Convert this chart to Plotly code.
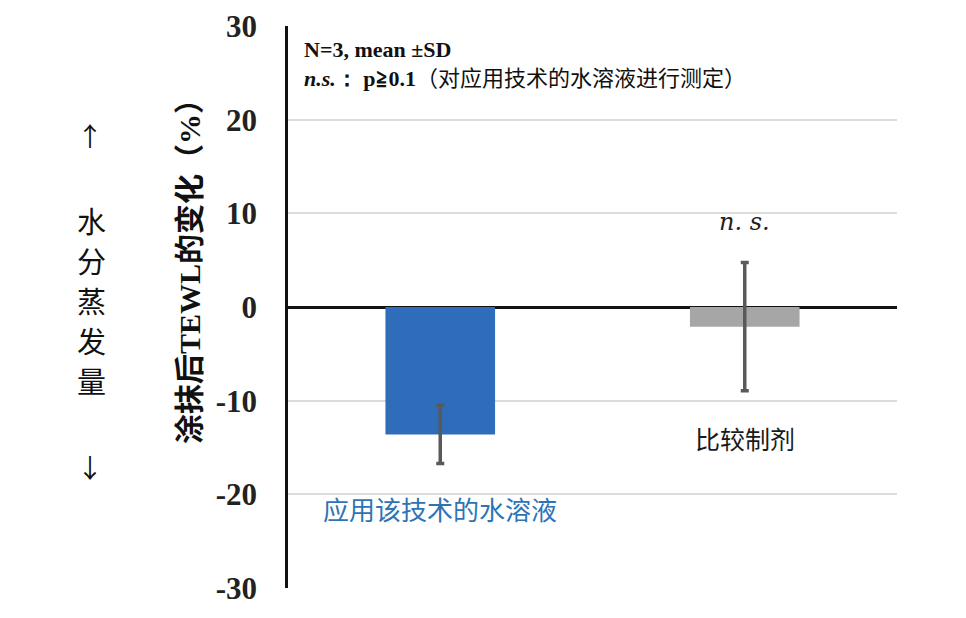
import plotly.graph_objects as go

# Data
categories = ["应用该技术的水溶液", "比较制剂"]
mean_change = [-13.6, -2.1]
sd_change = [3.1, 6.85]
bar_colors = ["#2f6dba", "#a6a6a6"]
label_colors = ["#2e74b5", "#1a1a1a"]
y_ticks = [-30, -20, -10, 0, 10, 20, 30]
side_chars = ["水", "分", "蒸", "发", "量"]

serif = "Liberation Serif, Times New Roman, serif"
cjk = "Noto Sans CJK SC, sans-serif"


def px_to_paper_y(ypix):
    # plot area runs from y=26 (top) to y=588 (bottom) in the photo
    return (588 - ypix) / 562


def px_to_paper_x(xpix):
    # plot area runs from x=288 to x=897
    return (xpix - 288) / 609


fig = go.Figure()

fig.add_trace(go.Bar(
    x=categories,
    y=mean_change,
    width=0.36,
    marker=dict(color=bar_colors, line=dict(width=0)),
    error_y=dict(type="data", array=sd_change, visible=True,
                 color="#595959", thickness=3.5, width=4),
    showlegend=False,
))

# category labels placed inside the plot
fig.add_annotation(x=categories[0], y=-21.5, xref="x", yref="y",
                   text=categories[0], showarrow=False,
                   xanchor="center", yanchor="middle",
                   font=dict(family=cjk, size=26, color=label_colors[0]))
fig.add_annotation(x=categories[1], y=-14.0, xref="x", yref="y",
                   text=categories[1], showarrow=False,
                   xanchor="center", yanchor="middle",
                   font=dict(family=cjk, size=25, color=label_colors[1]))

# significance mark
fig.add_annotation(x=categories[1], y=9.1, xref="x", yref="y",
                   text="<i>n. s.</i>", showarrow=False,
                   xanchor="center", yanchor="middle",
                   font=dict(family="DejaVu Serif, serif", size=24, color="#222"))

# note in top-left corner
note_text = (
    "<b>N=3, mean ±SD</b><br>"
    "<b><i>n.s.</i>： p≧0.1</b>"
    "<span style='font-family:Noto Sans CJK SC;font-size:22px'>（对应用技术的水溶液进行测定）</span>"
)
fig.add_annotation(x=px_to_paper_x(302), y=px_to_paper_y(64), xref="paper", yref="paper",
                   xanchor="left", yanchor="middle", align="left",
                   text=note_text, showarrow=False,
                   font=dict(family=serif, size=22, color="#111"))

# y-axis title
fig.add_annotation(x=px_to_paper_x(190), y=px_to_paper_y(264), xref="paper", yref="paper",
                   xanchor="center", yanchor="middle",
                   text="<b>涂抹后TEWL的变化（%）</b>", textangle=-90,
                   showarrow=False,
                   font=dict(family="Liberation Serif, Noto Sans CJK SC", size=30, color="#111"))

# side note: water evaporation
fig.add_annotation(x=px_to_paper_x(90), y=px_to_paper_y(135), xref="paper", yref="paper",
                   xanchor="center", yanchor="middle",
                   text="↑", showarrow=False,
                   font=dict(family=cjk, size=26, color="#111"))
for i, ch in enumerate(side_chars):
    fig.add_annotation(x=px_to_paper_x(91), y=px_to_paper_y(220 + 40 * i),
                       xref="paper", yref="paper",
                       xanchor="center", yanchor="middle",
                       text=ch, showarrow=False,
                       font=dict(family=cjk, size=29, color="#111"))
fig.add_annotation(x=px_to_paper_x(90), y=px_to_paper_y(466), xref="paper", yref="paper",
                   xanchor="center", yanchor="middle",
                   text="↓", showarrow=False,
                   font=dict(family=cjk, size=26, color="#111"))

# page body adds an 8px offset, so margins are trimmed to compensate
fig.update_layout(
    width=966, height=618,
    margin=dict(l=280, r=77, t=18, b=38),
    plot_bgcolor="white",
    paper_bgcolor="white",
    bargap=0.64,
)

fig.update_xaxes(showticklabels=False, showgrid=False, showline=False,
                 zeroline=False, ticks="", automargin=False)
fig.update_yaxes(
    range=[-30, 30], tickvals=y_ticks,
    ticktext=[f"<b>{v}</b>" for v in y_ticks],
    tickfont=dict(family=serif, size=31, color="#222"),
    showgrid=True, gridcolor="#dcdcdc", gridwidth=1.5,
    showline=True, linecolor="#111", linewidth=2.5,
    zeroline=True, zerolinecolor="#111", zerolinewidth=2.5,
    ticks="", ticklabelstandoff=22, automargin=False,
)

fig.write_html("out.html")
